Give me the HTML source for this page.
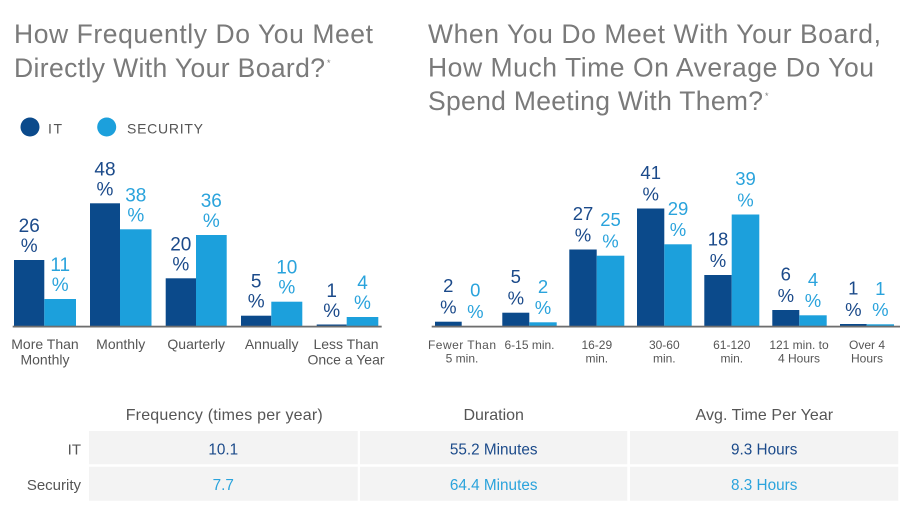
<!DOCTYPE html>
<html><head><meta charset="utf-8"><style>
html,body{margin:0;padding:0;background:#fff;}
svg{display:block;font-family:"Liberation Sans",sans-serif;}
</style></head><body>
<svg width="914" height="519" viewBox="0 0 914 519" xmlns="http://www.w3.org/2000/svg">
<rect width="914" height="519" fill="#fff"/>
<!-- Titles -->
<g fill="#7a7a7a" font-size="26.5">
<text x="14" y="43" textLength="359" lengthAdjust="spacing">How Frequently Do You Meet</text>
<text x="14" y="77" textLength="311" lengthAdjust="spacing">Directly With Your Board?</text>
<text x="327" y="66" font-size="9">*</text>
<text x="428" y="43" textLength="453" lengthAdjust="spacing">When You Do Meet With Your Board,</text>
<text x="428" y="76.5" textLength="446" lengthAdjust="spacing">How Much Time On Average Do You</text>
<text x="428" y="110" textLength="335" lengthAdjust="spacing">Spend Meeting With Them?</text>
<text x="765" y="99" font-size="9">*</text>
</g>
<!-- Legend -->
<circle cx="30" cy="127" r="9.5" fill="#0b4a8b"/>
<text x="48" y="133.3" font-size="14" fill="#555" textLength="14" lengthAdjust="spacing">IT</text>
<circle cx="106.7" cy="127" r="9.5" fill="#1ca0dc"/>
<text x="127" y="133.3" font-size="14" fill="#555" textLength="76" lengthAdjust="spacing">SECURITY</text>

<!-- Left chart bars -->
<g fill="#0b4a8b">
<rect x="14" y="260" width="30.3" height="66"/>
<rect x="90" y="203.3" width="30" height="122.7"/>
<rect x="165.7" y="278.3" width="30.3" height="47.7"/>
<rect x="241" y="315.7" width="30.3" height="10.3"/>
<rect x="316.7" y="324.5" width="30" height="1.5"/>
</g>
<g fill="#1ca0dc">
<rect x="44.3" y="299" width="31.7" height="27"/>
<rect x="120" y="229.3" width="31.5" height="96.7"/>
<rect x="196" y="235" width="30.7" height="91"/>
<rect x="271.3" y="301.7" width="31" height="24.3"/>
<rect x="346.7" y="317" width="31.6" height="9"/>
</g>
<rect x="12.7" y="325.7" width="369" height="1.8" fill="#6e6e6e"/>

<!-- Left labels -->
<g font-size="19" text-anchor="middle" fill="#1b4a8a">
<text x="29.2" y="232">26</text><text x="29.2" y="252">%</text>
<text x="105" y="175.3">48</text><text x="105" y="195.3">%</text>
<text x="180.8" y="250.3">20</text><text x="180.8" y="270.3">%</text>
<text x="256.2" y="287.7">5</text><text x="256.2" y="307.7">%</text>
<text x="331.7" y="297">1</text><text x="331.7" y="317">%</text>
</g>
<g font-size="19" text-anchor="middle" fill="#2aa3dc">
<text x="60.2" y="271">11</text><text x="60.2" y="291">%</text>
<text x="135.8" y="201.3">38</text><text x="135.8" y="221.3">%</text>
<text x="211.3" y="207">36</text><text x="211.3" y="227">%</text>
<text x="286.8" y="273.7">10</text><text x="286.8" y="293.7">%</text>
<text x="362.5" y="289">4</text><text x="362.5" y="309">%</text>
</g>
<g font-size="14" text-anchor="middle" fill="#555">
<text x="45" y="349">More Than</text><text x="45" y="364.5">Monthly</text>
<text x="120.7" y="349">Monthly</text>
<text x="196.2" y="349">Quarterly</text>
<text x="271.7" y="349">Annually</text>
<text x="346" y="349">Less Than</text><text x="346" y="364.5">Once a Year</text>
</g>

<!-- Right chart bars -->
<g fill="#0b4a8b">
<rect x="435" y="321.7" width="26.7" height="4.3"/>
<rect x="502.3" y="312.7" width="27" height="13.3"/>
<rect x="569.3" y="249.5" width="27.4" height="76.5"/>
<rect x="637" y="208.5" width="27.3" height="117.5"/>
<rect x="704.3" y="275" width="27.4" height="51"/>
<rect x="772.3" y="310" width="27" height="16"/>
<rect x="840" y="324" width="26.7" height="2"/>
</g>
<g fill="#1ca0dc">
<rect x="529.3" y="322.3" width="27.4" height="3.7"/>
<rect x="596.7" y="255.7" width="27.6" height="70.3"/>
<rect x="664.3" y="244.3" width="27.4" height="81.7"/>
<rect x="731.7" y="214.5" width="27.6" height="111.5"/>
<rect x="799.3" y="315.3" width="27.4" height="10.7"/>
<rect x="866.7" y="324.3" width="27.3" height="1.7"/>
</g>
<rect x="431.7" y="325.7" width="468.3" height="1.8" fill="#6e6e6e"/>

<g font-size="18.5" text-anchor="middle" fill="#1b4a8a">
<text x="448.3" y="292">2</text><text x="448.3" y="313.3">%</text>
<text x="515.8" y="283">5</text><text x="515.8" y="304.3">%</text>
<text x="583" y="220">27</text><text x="583" y="241.3">%</text>
<text x="650.7" y="179">41</text><text x="650.7" y="200.3">%</text>
<text x="718" y="245.5">18</text><text x="718" y="266.8">%</text>
<text x="785.8" y="280.5">6</text><text x="785.8" y="301.8">%</text>
<text x="853.3" y="294.5">1</text><text x="853.3" y="315.8">%</text>
</g>
<g font-size="18.5" text-anchor="middle" fill="#2aa3dc">
<text x="475.3" y="296.5">0</text><text x="475.3" y="317.8">%</text>
<text x="543" y="292.8">2</text><text x="543" y="314.1">%</text>
<text x="610.5" y="226.2">25</text><text x="610.5" y="247.5">%</text>
<text x="678" y="214.8">29</text><text x="678" y="236.1">%</text>
<text x="745.5" y="185">39</text><text x="745.5" y="206.3">%</text>
<text x="813" y="285.8">4</text><text x="813" y="307.1">%</text>
<text x="880.3" y="294.8">1</text><text x="880.3" y="316.1">%</text>
</g>
<g font-size="12" text-anchor="middle" fill="#555">
<text x="462" y="349" textLength="68" lengthAdjust="spacing">Fewer Than</text><text x="462" y="362.5">5 min.</text>
<text x="529.5" y="349">6-15 min.</text>
<text x="596.8" y="349">16-29</text><text x="596.8" y="362.5">min.</text>
<text x="664.3" y="349">30-60</text><text x="664.3" y="362.5">min.</text>
<text x="731.8" y="349">61-120</text><text x="731.8" y="362.5">min.</text>
<text x="799" y="349">121 min. to</text><text x="799" y="362.5">4 Hours</text>
<text x="867" y="349">Over 4</text><text x="867" y="362.5">Hours</text>
</g>

<!-- Table -->
<g fill="#f3f3f3">
<rect x="89" y="431" width="268.7" height="33.3"/>
<rect x="360" y="431" width="267.3" height="33.3"/>
<rect x="630" y="431" width="268.3" height="33.3"/>
<rect x="89" y="466.7" width="268.7" height="34"/>
<rect x="360" y="466.7" width="267.3" height="34"/>
<rect x="630" y="466.7" width="268.3" height="34"/>
</g>
<g font-size="16" text-anchor="middle" fill="#555">
<text x="224.2" y="420" textLength="197" lengthAdjust="spacing">Frequency (times per year)</text>
<text x="493.7" y="420">Duration</text>
<text x="764.3" y="420" textLength="137.6" lengthAdjust="spacing">Avg. Time Per Year</text>
</g>
<g font-size="15" text-anchor="end" fill="#555">
<text x="81" y="454.5">IT</text>
<text x="81" y="490">Security</text>
</g>
<g font-size="15.3" text-anchor="middle" fill="#1b4a8a">
<text x="223.3" y="454.5">10.1</text>
<text x="493.7" y="454.5">55.2 Minutes</text>
<text x="764.2" y="454.5">9.3 Hours</text>
</g>
<g font-size="15.3" text-anchor="middle" fill="#2aa3dc">
<text x="223.3" y="490">7.7</text>
<text x="493.7" y="490">64.4 Minutes</text>
<text x="764.2" y="490">8.3 Hours</text>
</g>
</svg>
</body></html>
